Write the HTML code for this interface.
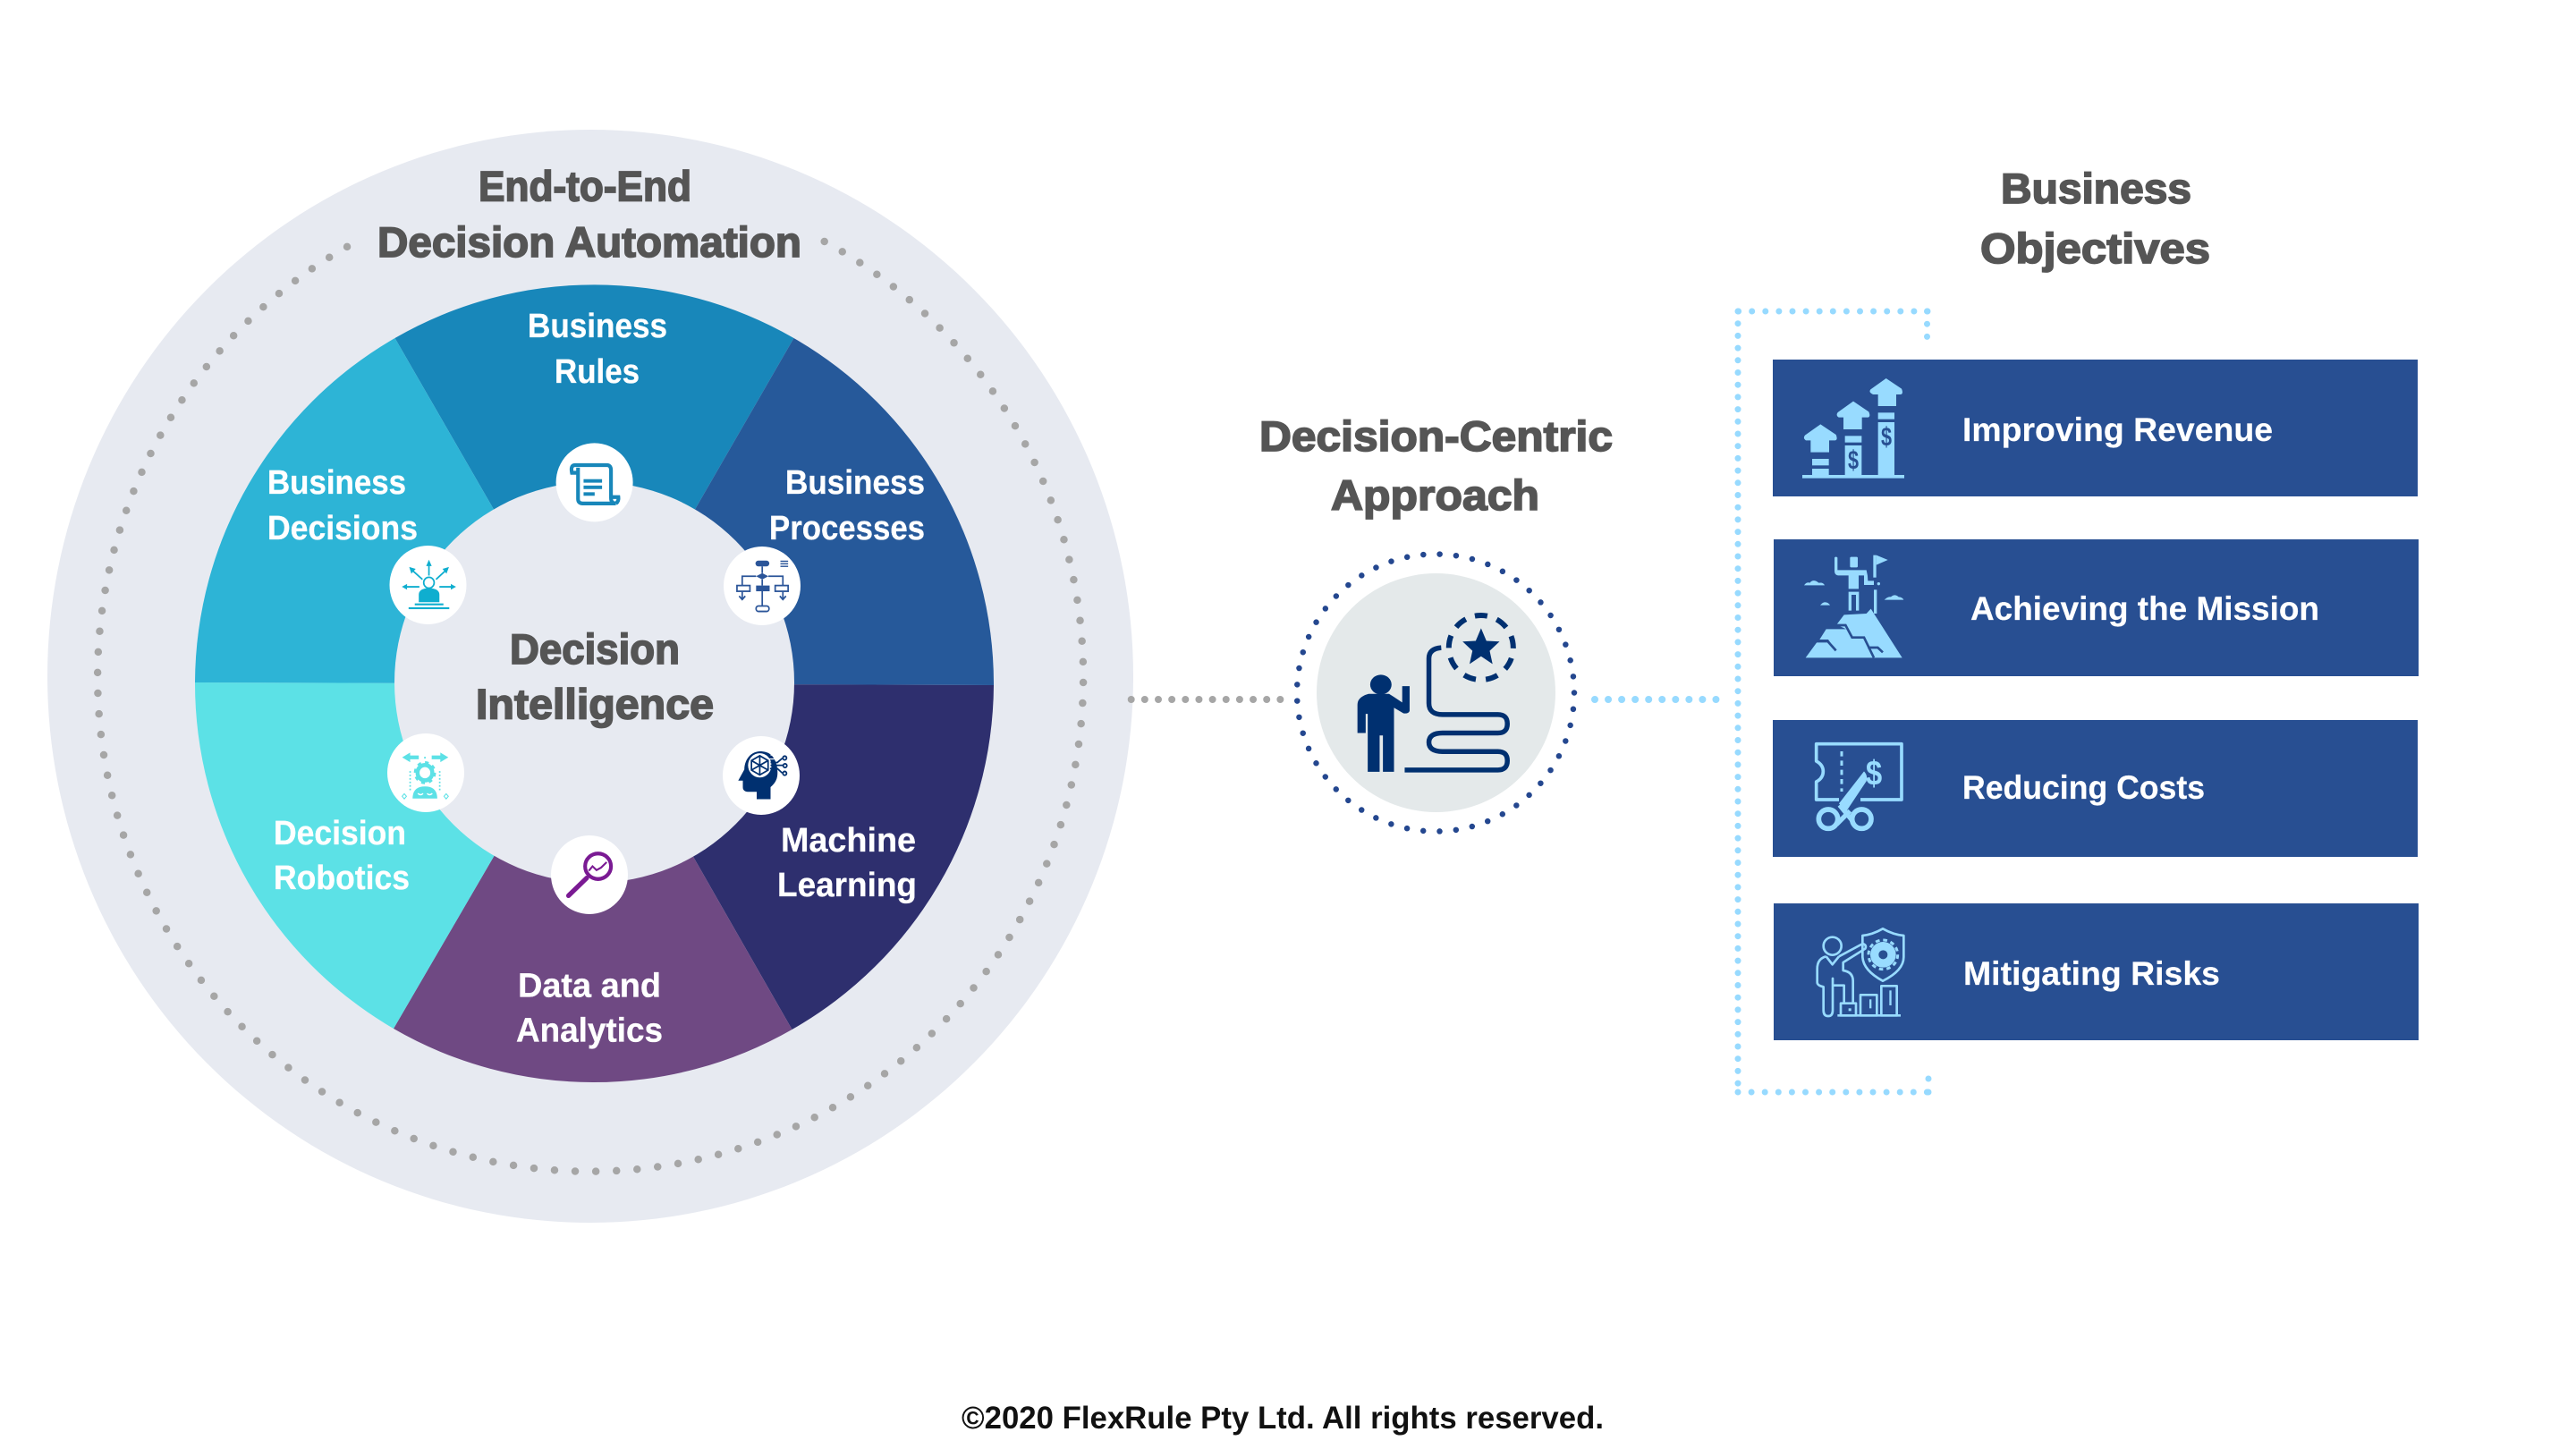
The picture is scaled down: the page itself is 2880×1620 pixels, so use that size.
<!DOCTYPE html>
<html><head><meta charset="utf-8"><style>
html,body{margin:0;padding:0;background:#fff;width:2880px;height:1620px;overflow:hidden}
svg{display:block}
text{font-family:"Liberation Sans",sans-serif;font-weight:700}
.t{fill:#555;stroke:#555;stroke-width:1.7;font-size:47px}
.s{fill:#fff;stroke:#fff;stroke-width:.3;font-size:38px}
.b{fill:#fff;stroke:#fff;stroke-width:.2;font-size:37px}
</style></head><body>
<svg xmlns="http://www.w3.org/2000/svg" width="2880" height="1620" viewBox="0 0 2880 1620">
<rect width="2880" height="1620" fill="#fff"/>
<ellipse cx="660" cy="756" rx="607" ry="611" fill="#E7EAF1"/>
<path d="M921.7 270A551 553 0 1 1 395.6 271.6" fill="none" stroke="#A6A6A6" stroke-width="8.5" stroke-linecap="round" stroke-dasharray="0 23.1"/>

<!-- pie -->
<path d="M664.5 764.5L441.5 378A446.5 446.5 0 0 1 887.5 378Z" fill="#1887BA"/>
<path d="M664.5 764.5L887.5 378A446.5 446.5 0 0 1 1111 766Z" fill="#26599A"/>
<path d="M664.5 764.5L1111 766A446.5 446.5 0 0 1 885.5 1151Z" fill="#2E2F6E"/>
<path d="M664.5 764.5L885.5 1151A446.5 446.5 0 0 1 440 1150Z" fill="#6F4983"/>
<path d="M664.5 764.5L440 1150A446.5 446.5 0 0 1 218 763Z" fill="#5CE1E6"/>
<path d="M664.5 764.5L218 763A446.5 446.5 0 0 1 441.5 378Z" fill="#2DB4D6"/>
<ellipse cx="664.5" cy="763" rx="223.5" ry="224" fill="#E7EAF1"/>

<!-- icon discs -->
<g fill="#fff">
<ellipse cx="664.6" cy="539.4" rx="43" ry="44"/>
<ellipse cx="478.5" cy="654" rx="43" ry="44"/>
<ellipse cx="852" cy="655" rx="43" ry="44"/>
<ellipse cx="851" cy="867" rx="43" ry="44"/>
<ellipse cx="659" cy="978" rx="43" ry="44"/>
<ellipse cx="476" cy="864" rx="43" ry="44"/>
</g>

<!-- small icons, drawn in zoomed coordinates -->
<g transform="translate(400,480) scale(0.3444,0.3571)">
 <g fill="none" stroke="#1887BA" stroke-width="12">
  <path d="M715 136H695Q690 112 705 112H808Q822 112 822 128V215Q822 232 838 232H730Q715 232 715 218V120"/>
  <path d="M838 232Q848 225 846 212H826"/>
 </g>
 <g fill="#1887BA"><rect x="733" y="156" width="60" height="11"/><rect x="733" y="176" width="60" height="11"/><rect x="733" y="197" width="36" height="11"/></g>

 <g fill="#0FAECF" stroke="none">
  <path d="M198 541V518Q198 498 231 497Q265 498 265 518V541Z"/>
  <rect x="185" y="545" width="93" height="6"/><rect x="165" y="557" width="132" height="6"/>
  <polygon points="231,408 240,428 222,428"/><polygon points="143,493 160,484 160,502"/><polygon points="319,493 302,484 302,502"/>
  <polygon points="167,431 188,437 174,452"/><polygon points="296,431 288,452 275,437"/>
 </g>
 <g fill="none" stroke="#0FAECF" stroke-width="5">
  <circle cx="231" cy="480" r="17"/>
  <path d="M231 425V458M158 493H200M265 493H305M180 444L210 470M283 444L254 470"/>
 </g>

 <g fill="#2B5599">
  <rect x="1291" y="411" width="45" height="18" rx="9"/>
  <rect x="1293" y="489" width="44" height="18"/>
  <path d="M1313 450L1333 460L1313 470L1293 460Z"/>
  <rect x="1372" y="411" width="25" height="4"/><rect x="1372" y="419" width="25" height="4"/><rect x="1372" y="427" width="25" height="4"/>
 </g>
 <g fill="none" stroke="#2B5599" stroke-width="5">
  <path d="M1248 489V460H1293M1333 460H1380V489M1313 429V450M1313 470V489M1313 507V553M1248 507V530M1380 507V530M1238 522L1248 533L1258 522M1370 522L1380 533L1390 522"/>
  <rect x="1231" y="489" width="42" height="18"/><rect x="1355" y="489" width="42" height="18"/>
  <rect x="1293" y="553" width="42" height="17" rx="8"/>
 </g>

 <path d="M1305 1008C1270 1010 1255 1040 1255 1065L1235 1100H1250V1120Q1250 1135 1270 1135H1295V1158H1340V1120C1365 1100 1365 1080 1360 1050C1350 1020 1335 1008 1305 1008Z" fill="#003070"/>
 <circle cx="1305" cy="1052" r="38" fill="#fff"/>
 <path d="M1340 1020H1385M1340 1052H1385M1340 1062H1370L1385 1078M1335 1032H1365L1385 1028" stroke="#fff" stroke-width="3" fill="none"/>
 <g fill="none" stroke="#003070" stroke-width="5">
  <path d="M1305 1022L1332 1037V1067L1305 1082L1278 1067V1037ZM1305 1022V1082M1278 1037L1332 1067M1332 1037L1278 1067"/>
  <path d="M1340 1043H1362L1378 1030M1340 1052H1380M1338 1062H1362L1378 1076"/>
  <circle cx="1386" cy="1029" r="6"/><circle cx="1387" cy="1053" r="6"/><circle cx="1386" cy="1077" r="6"/>
 </g>

 <g fill="none" stroke="#7A1A93">
  <ellipse cx="780" cy="1368" rx="42" ry="40" stroke-width="12"/>
  <path d="M743 1405L684 1460" stroke-width="15" stroke-linecap="round"/>
  <path d="M750 1382L762 1368L775 1380L790 1372L808 1355" stroke-width="6"/>
 </g>

 <g fill="#5CE1E6">
  <polygon points="144,1027 170,1012 170,1021 198,1021 198,1033 170,1033 170,1042"/>
  <polygon points="294,1027 268,1012 268,1021 240,1021 240,1033 268,1033 268,1042"/>
  <path d="M178 1156Q178 1118 218 1118Q258 1118 258 1156Z"/>
  <circle cx="218" cy="1028" r="3"/>
 </g>
 <circle cx="218" cy="1075" r="24" fill="none" stroke="#5CE1E6" stroke-width="13"/>
 <circle cx="218" cy="1075" r="32" fill="none" stroke="#5CE1E6" stroke-width="8" stroke-dasharray="12 13"/>
 <path d="M170 1070V1130M266 1070V1130" stroke="#5CE1E6" stroke-width="5" stroke-dasharray="5 6" fill="none"/>
 <path d="M195 1140Q204 1148 212 1140M225 1140Q233 1148 242 1140" stroke="#fff" stroke-width="4" fill="none"/>
 <path d="M151 1141L158 1149L151 1157L144 1149ZM287 1141L294 1149L287 1157L280 1149Z" fill="none" stroke="#5CE1E6" stroke-width="3"/>
</g>

<!-- connectors -->
<path d="M1264.7 782H1432" stroke="#A6A6A6" stroke-width="8" stroke-linecap="round" stroke-dasharray="0 15.15" fill="none"/>
<path d="M1783 782H1919" stroke="#97DAFF" stroke-width="8" stroke-linecap="round" stroke-dasharray="0 15.05" fill="none"/>
<g fill="none" stroke="#97DAFF" stroke-width="7" stroke-linecap="round">
 <path d="M2155 348H1943" stroke-dasharray="0 15.1"/>
 <path d="M1943 348V1221" stroke-dasharray="0 13.7"/>
 <path d="M1943 1221H2156" stroke-dasharray="0 15.1"/>
 <path d="M2154.5 348V377" stroke-dasharray="0 14.2"/>
 <path d="M2156 1221V1191" stroke-dasharray="0 15"/>
</g>

<!-- centre icon -->
<circle cx="1605.5" cy="774.5" r="133.5" fill="#E4E9EA"/>
<circle cx="1605" cy="774.5" r="155" fill="none" stroke="#24478F" stroke-width="6.5" stroke-linecap="round" stroke-dasharray="0 18.37"/>
<g transform="translate(1250,440) scale(0.4591,0.3444)">
 <ellipse cx="640" cy="945" rx="26" ry="32" fill="#003070"/>
 <path d="M583 1102V1010Q583 985 610 975H660L672 985L692 1003V950H710V1030Q708 1040 695 1038L672 1020V1228H645V1110H637V1228H608V1040H603V1102Z" fill="#003070"/>
 <path d="M787 825Q757 828 757 860V1005Q757 1042 790 1042H925Q948 1042 948 1072Q948 1102 925 1102H790Q757 1102 757 1132Q757 1162 790 1162H925Q948 1162 948 1192Q948 1222 925 1222H698" fill="none" stroke="#003070" stroke-width="5.5" vector-effect="non-scaling-stroke"/>
 <polygon points="884,762 897,803 929,805 905,835 912,878 884,853 856,878 863,835 839,805 871,803" fill="#003070"/>
</g>
<circle cx="1655.8" cy="724" r="36" fill="none" stroke="#003070" stroke-width="6" stroke-dasharray="14 11.13" transform="rotate(-101 1655.8 724)"/>

<!-- bars -->
<g fill="#284F92">
<rect x="1982" y="402" width="721" height="153"/>
<rect x="1983" y="603" width="721" height="153"/>
<rect x="1982" y="805" width="721" height="153"/>
<rect x="1983" y="1010" width="721" height="153"/>
</g>

<!-- revenue + mission icons -->
<g transform="translate(1940,330) scale(0.33333)" fill="#98DBFF">
 <rect x="225" y="603" width="342" height="11"/>
 <path d="M286 433L338 468Q345 485 335 487H315V527H253V487H237Q226 480 234 470Z"/>
 <path d="M396 356L448 391Q455 408 445 410H425V450H363V410H347Q336 403 344 393Z"/>
 <path d="M506 279L558 314Q565 331 555 333H540V372H479V333H463Q446 326 454 316Z"/>
 <rect x="258" y="549" width="56" height="22"/><rect x="258" y="582" width="56" height="22"/>
 <rect x="368" y="472" width="56" height="22"/><rect x="368" y="504" width="56" height="100"/>
 <rect x="479" y="394" width="55" height="22"/><rect x="479" y="426" width="55" height="178"/>
 <g fill="#284F92" text-anchor="middle" style="font-size:88px">
  <text x="396" y="584" textLength="36" lengthAdjust="spacingAndGlyphs">$</text><text x="507" y="506" textLength="36" lengthAdjust="spacingAndGlyphs">$</text>
 </g>

 <path d="M236 1216L275 1163H312L338 1192L312 1155H283L305 1120H372L340 1105L365 1072L440 1068L455 1052L560 1216Z"/>
 <g fill="none" stroke="#284F92" stroke-width="8">
  <path d="M340 1107H370L392 1148H432L465 1216"/>
  <path d="M272 1161H310L338 1192"/>
  <path d="M445 1182H478L495 1198"/>
 </g>
 <rect x="385" y="878" width="26" height="35" rx="4"/>
 <path d="M333 880Q338 875 343 880V922H440Q445 940 445 958H465V972H432V940H414V985H380V940H345Q333 938 333 925Z"/>
 <path d="M380 995H415V1058H405V1005H390V1058H380Z"/>
 <rect x="463" y="872" width="10" height="75"/><polygon points="473,872 512,888 473,905"/>
 <circle cx="481" cy="968" r="5"/><rect x="465" y="988" width="10" height="80"/>
 <path d="M231 973Q240 960 250 965Q262 950 280 965Q295 962 300 973Z"/>
 <path d="M285 1040Q295 1028 303 1030Q312 1030 318 1040Z"/>
 <path d="M500 1022Q512 1010 522 1012Q535 1000 548 1012Q560 1012 565 1022Z"/>
</g>

<!-- costs + risks icons -->
<g transform="translate(1940,790) scale(0.33333)">
 <g fill="none" stroke="#98DBFF" stroke-width="11" stroke-linejoin="round">
  <path d="M420 312H558V125H272V183Q295 195 295 217Q295 240 272 252V312H348"/>
  <path d="M357 150V285" stroke-width="9" stroke-dasharray="17 14"/>
 </g>
 <text x="465" y="263" text-anchor="middle" fill="#98DBFF" textLength="55" lengthAdjust="spacingAndGlyphs" style="font-size:118px">$</text>
 <path d="M432 217Q445 230 440 250L372 352L348 325Z" fill="#98DBFF"/>
 <path d="M350 330L395 385M385 350L340 395" stroke="#98DBFF" stroke-width="16" fill="none"/>
 <circle cx="312" cy="377" r="32" fill="#284F92" stroke="#98DBFF" stroke-width="17"/>
 <circle cx="424" cy="377" r="32" fill="#284F92" stroke="#98DBFF" stroke-width="17"/>

 <g fill="none" stroke="#98DBFF" stroke-width="8" stroke-linejoin="round">
  <circle cx="326" cy="803" r="30"/>
  <path d="M305 838L326 865L348 838"/>
  <path d="M305 838Q275 845 275 880V925Q275 935 296 940V1018Q296 1038 312 1038Q327 1038 327 1018V912V935H365V995"/>
  <path d="M348 838L428 795Q442 800 436 812L362 858V885Q395 890 395 920V995"/>
  <path d="M495 745Q460 765 427 768V840Q430 885 495 920Q565 885 565 840V768Q530 765 495 745Z"/>
  <path d="M343 1036H555"/>
  <rect x="354" y="995" width="51" height="41"/>
  <rect x="420" y="967" width="55" height="69"/>
  <rect x="490" y="937" width="52" height="99"/>
 </g>
 <g fill="#98DBFF">
  <circle cx="496" cy="832" r="43"/>
  <circle cx="496" cy="832" r="49" fill="none" stroke="#98DBFF" stroke-width="9" stroke-dasharray="14 11.6"/>
  <rect x="380" y="1012" width="9" height="9"/><rect x="450" y="982" width="7" height="30"/><rect x="517" y="952" width="7" height="50"/>
 </g>
 <circle cx="496" cy="832" r="15" fill="#284F92"/>
</g>

<!-- text -->
<text class="t" x="535" y="224.5" textLength="238" lengthAdjust="spacingAndGlyphs">End-to-End</text>
<text class="t" x="422" y="287" textLength="474" lengthAdjust="spacingAndGlyphs">Decision Automation</text>
<text class="t" x="570" y="742" textLength="190" lengthAdjust="spacingAndGlyphs">Decision</text>
<text class="t" x="532" y="803.5" textLength="266" lengthAdjust="spacingAndGlyphs">Intelligence</text>
<text class="t" x="1408" y="504" textLength="395" lengthAdjust="spacingAndGlyphs">Decision-Centric</text>
<text class="t" x="1488" y="570" textLength="233" lengthAdjust="spacingAndGlyphs">Approach</text>
<text class="t" x="2237" y="227" textLength="213" lengthAdjust="spacingAndGlyphs">Business</text>
<text class="t" x="2214" y="294" textLength="257" lengthAdjust="spacingAndGlyphs">Objectives</text>

<text class="s" x="590" y="377" textLength="156" lengthAdjust="spacingAndGlyphs">Business</text>
<text class="s" x="620" y="428" textLength="95" lengthAdjust="spacingAndGlyphs">Rules</text>
<text class="s" x="299" y="552" textLength="155" lengthAdjust="spacingAndGlyphs">Business</text>
<text class="s" x="299" y="603" textLength="168" lengthAdjust="spacingAndGlyphs">Decisions</text>
<text class="s" x="878" y="552" textLength="156" lengthAdjust="spacingAndGlyphs">Business</text>
<text class="s" x="860" y="603" textLength="174" lengthAdjust="spacingAndGlyphs">Processes</text>
<text class="s" x="873" y="952" textLength="151" lengthAdjust="spacingAndGlyphs">Machine</text>
<text class="s" x="869" y="1002" textLength="156" lengthAdjust="spacingAndGlyphs">Learning</text>
<text class="s" x="306" y="944" textLength="148" lengthAdjust="spacingAndGlyphs">Decision</text>
<text class="s" x="306" y="994" textLength="152" lengthAdjust="spacingAndGlyphs">Robotics</text>
<text class="s" x="579" y="1114.5" textLength="160" lengthAdjust="spacingAndGlyphs">Data and</text>
<text class="s" x="577" y="1164.5" textLength="164" lengthAdjust="spacingAndGlyphs">Analytics</text>

<text class="b" x="2194" y="493" textLength="347" lengthAdjust="spacingAndGlyphs">Improving Revenue</text>
<text class="b" x="2203" y="693" textLength="390" lengthAdjust="spacingAndGlyphs">Achieving the Mission</text>
<text class="b" x="2194" y="893" textLength="271" lengthAdjust="spacingAndGlyphs">Reducing Costs</text>
<text class="b" x="2195" y="1101" textLength="287" lengthAdjust="spacingAndGlyphs">Mitigating Risks</text>

<text x="1075" y="1597" fill="#111" textLength="718" lengthAdjust="spacingAndGlyphs" style="font-size:35px">©2020 FlexRule Pty Ltd. All rights reserved.</text>
</svg>
</body></html>
